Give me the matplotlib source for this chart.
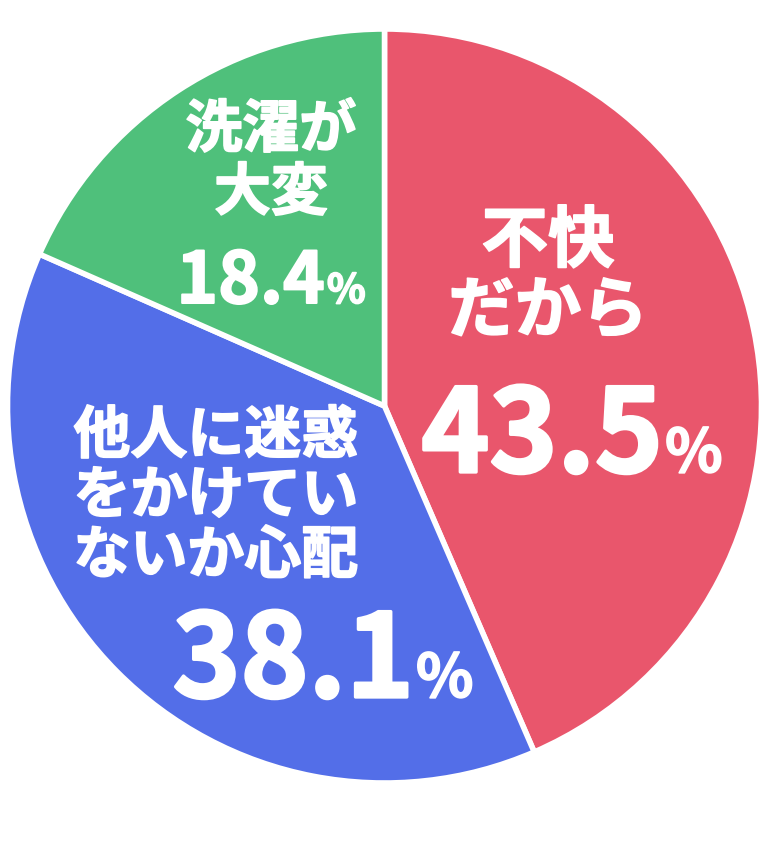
import matplotlib
matplotlib.use('Agg')
import matplotlib.pyplot as plt
import matplotlib.patheffects as pe

plt.rcParams['font.family'] = ['Noto Sans CJK JP', 'DejaVu Sans']

# data
categories = ['不快だから', '他人に迷惑をかけていないか心配', '洗濯が大変']
label_lines = [['不快', 'だから'], ['他人に迷惑', 'をかけてい', 'ないか心配'], ['洗濯が', '大変']]
values = [43.5, 38.1, 18.4]
colors = ['#E9566C', '#536EE8', '#4FC07B']

W, H = 765, 841


def py(y):
    # pixel row (from top) -> axes y
    return H - y


def bold_fx(lw):
    # thicken the glyphs a bit, the source uses a heavier weight
    return [pe.withStroke(linewidth=lw, foreground='white')]


fig = plt.figure(figsize=(W / 100, H / 100), dpi=100)
ax = fig.add_axes([0, 0, 1, 1])

ax.pie(values, colors=colors, startangle=90, counterclock=False,
       center=(384.5, py(406)), radius=377, frame=True,
       wedgeprops=dict(edgecolor='white', linewidth=4))
ax.set_xlim(0, W)
ax.set_ylim(0, H)
ax.set_aspect('equal')
ax.axis('off')

# label layout: (label x, first line y, line step, label size,
#                number x, number baseline, number size, pct size)
layout = [
    (548, 242, 70, 48, 571, 472, 83, 43),
    (216, 436, 60, 41, 322, 697, 83, 43),
    (271, 130, 63, 41, 270, 303, 51, 29),
]

fig.canvas.draw()
r = fig.canvas.get_renderer()

for lines, v, (xc, y0, step, fs, xn, yb, nfs, pfs) in zip(label_lines, values, layout):
    for i, line in enumerate(lines):
        ax.text(xc, py(y0 + i * step), line, ha='center', va='center',
                fontsize=fs, fontweight='bold', color='white',
                path_effects=bold_fx(1.2))
    num = ax.text(0, py(yb), f'{v:.1f}', ha='left', va='baseline',
                  fontsize=nfs, fontweight='bold', color='white',
                  path_effects=bold_fx(nfs / 35))
    pct = ax.text(0, py(yb), '%', ha='left', va='baseline',
                  fontsize=pfs, fontweight='bold', color='white',
                  path_effects=bold_fx(1.2))
    # center number + % as one group
    wn = num.get_window_extent(r).width
    wp = pct.get_window_extent(r).width
    x_start = xn - (wn + wp) / 2
    num.set_x(x_start)
    pct.set_x(x_start + wn + 2)

fig.savefig('out.png', dpi=100)
